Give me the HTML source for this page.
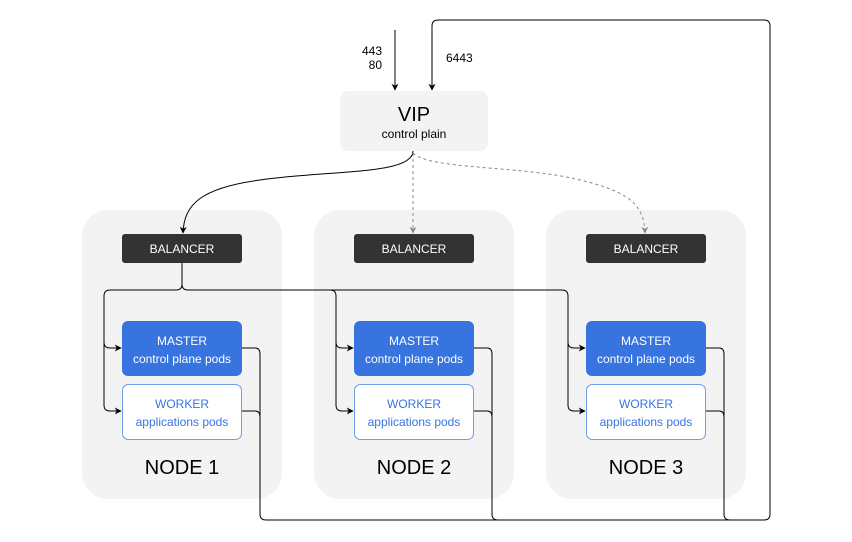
<!DOCTYPE html>
<html><head><meta charset="utf-8"><style>
body{margin:0;background:#fff}
svg{display:block;font-family:"Liberation Sans",Arial,sans-serif}
</style></head><body>
<svg width="852" height="542" viewBox="0 0 852 542" xmlns="http://www.w3.org/2000/svg">
<defs>
<marker id="a" viewBox="0 0 10 10" refX="9" refY="5" markerWidth="7" markerHeight="7" orient="auto"><path d="M0,0 L10,5 L0,10 L3,5 z" fill="#000"/></marker>
<marker id="g" viewBox="0 0 10 10" refX="9" refY="5" markerWidth="7" markerHeight="7" orient="auto"><path d="M0,0 L10,5 L0,10 L3,5 z" fill="#888"/></marker>
</defs>
<rect x="340" y="91" width="148" height="60" rx="8" fill="#f3f3f3"/>
<text x="414" y="121" font-size="20" text-anchor="middle">VIP</text>
<text x="414" y="138" font-size="12" text-anchor="middle">control plain</text>
<text x="382" y="55" font-size="12" text-anchor="end">443</text>
<text x="382" y="69" font-size="12" text-anchor="end">80</text>
<text x="446" y="62" font-size="12">6443</text>
<g id="n">
<rect x="82" y="210" width="200" height="289" rx="26" fill="#f3f3f3"/>
<rect x="122" y="234" width="120" height="29" rx="3" fill="#333"/>
<text x="182" y="253" font-size="12" fill="#fff" text-anchor="middle">BALANCER</text>
<rect x="122" y="321" width="120" height="55" rx="6" fill="#3874e0"/>
<text x="182" y="345" font-size="12" fill="#fff" text-anchor="middle">MASTER</text>
<text x="182" y="363" font-size="12" fill="#fff" text-anchor="middle">control plane pods</text>
<rect x="122.5" y="384.5" width="119" height="55" rx="6" fill="#fff" stroke="#6f9cec"/>
<text x="182" y="408" font-size="12" fill="#3874e0" text-anchor="middle">WORKER</text>
<text x="182" y="426" font-size="12" fill="#3874e0" text-anchor="middle">applications pods</text>
<path d="M104,300 V405 Q104,411 110,411 H121" fill="none" stroke="#000" marker-end="url(#a)"/>
<path d="M104,342 Q104,348 110,348 H121" fill="none" stroke="#000" marker-end="url(#a)"/>
<path d="M242,348 H255 Q260,348 260,354 V514 Q260,520 266,520" fill="none" stroke="#000"/>
<path d="M242,411 H255 Q260,411 260,417" fill="none" stroke="#000"/>
</g>
<use href="#n" x="232"/>
<use href="#n" x="464"/>
<text x="182" y="474" font-size="20" text-anchor="middle">NODE 1</text>
<text x="414" y="474" font-size="20" text-anchor="middle">NODE 2</text>
<text x="646" y="474" font-size="20" text-anchor="middle">NODE 3</text>
<path d="M182,263 V284 Q182,290 176,290 H110 Q104,290 104,296 V300" fill="none" stroke="#000"/>
<path d="M182,284 Q182,290 188,290 H562 Q568,290 568,296 V300" fill="none" stroke="#000"/>
<path d="M330,290 Q336,290 336,296 V300" fill="none" stroke="#000"/>
<path d="M266,520 H764 Q770,520 770,514 V26 Q770,20 764,20 H438 Q432,20 432,26 V90" fill="none" stroke="#000" marker-end="url(#a)"/>
<path d="M395,30 V90" fill="none" stroke="#000" marker-end="url(#a)"/>
<path d="M413,151 C413,175 330,170 260,180 C200,188 184,205 183,233" fill="none" stroke="#000" marker-end="url(#a)"/>
<path d="M413,153 V233" fill="none" stroke="#888" stroke-dasharray="3,3" marker-end="url(#g)"/>
<path d="M413,153 C430,170 520,165 580,180 C630,192 644,205 645,233" fill="none" stroke="#888" stroke-dasharray="3,3" marker-end="url(#g)"/>
</svg>
</body></html>
